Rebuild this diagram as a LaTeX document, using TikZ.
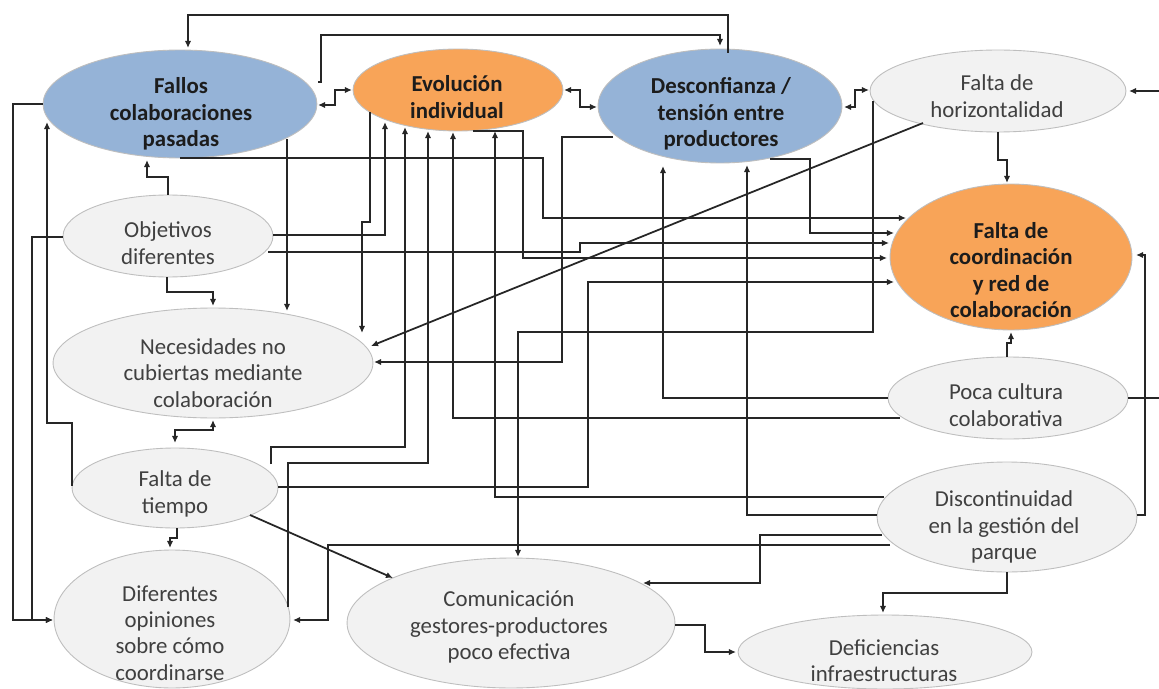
\documentclass[tikz,border=0pt]{standalone}
\usepackage{fontspec}
\setmainfont{Carlito}
\usetikzlibrary{arrows.meta,calc,shapes.geometric}

\definecolor{blueN}{RGB}{149,179,215}
\definecolor{orangeN}{RGB}{248,164,88}
\definecolor{grayN}{RGB}{242,242,242}
\definecolor{edgeN}{RGB}{190,190,190}
\definecolor{lineC}{RGB}{38,38,38}
\definecolor{txtB}{RGB}{28,28,28}
\definecolor{txtG}{RGB}{64,64,64}

\begin{document}
\begin{tikzpicture}[x=0.02cm,y=-0.02cm,
  oval/.style 2 args={ellipse,draw=edgeN,line width=0.5pt,inner sep=0pt,
    minimum width=#1*0.04cm,minimum height=#2*0.04cm},
  blueoval/.style={fill=blueN},
  orangeoval/.style={fill=orangeN},
  grayoval/.style={fill=grayN},
  boldtxt/.style={font=\fontsize{13}{15}\selectfont\bfseries,text=txtB,align=center,inner sep=0pt},
  plaintxt/.style={font=\fontsize{13}{15}\selectfont,text=txtG,align=center,inner sep=0pt},
  conn/.style={draw=lineC,line width=1pt,-{Latex[length=4pt,width=3.6pt]}},
  dconn/.style={draw=lineC,line width=1pt,{Latex[length=4pt,width=3.6pt]}-{Latex[length=4pt,width=3.6pt]}}]

\useasboundingbox (0,0) rectangle (1159,689);
\fill[white] (0,0) rectangle (1159,689);

% ellipses
\node[oval={137}{54},blueoval]   (fallos) at (180,104) {};
\node[oval={105}{41},orangeoval] (evol)   at (458,90)  {};
\node[oval={122}{57},blueoval]   (desc)   at (720,106) {};
\node[oval={128}{41},grayoval]   (horiz)  at (998,91)  {};
\node[oval={121}{73},orangeoval] (coord)  at (1011,257) {};
\node[oval={105}{41},grayoval]   (obj)    at (168,236) {};
\node[oval={160}{55},grayoval]   (nec)    at (213,363) {};
\node[oval={103}{40},grayoval]   (tiempo) at (175,488) {};
\node[oval={118}{69},grayoval]   (opin)   at (172,619) {};
\node[oval={164}{65},grayoval]   (comu)   at (511,623) {};
\node[oval={147}{37},grayoval]   (defic)  at (885,652) {};
\node[oval={130}{55},grayoval]   (disc)   at (1007,517) {};
\node[oval={120}{41},grayoval]   (poca)   at (1008,398) {};

% labels
\node[boldtxt]  (fallos-t) at (181,114) {Fallos\\colaboraciones\\pasadas};
\node[boldtxt]  (evol-t)   at (457,97)  {Evolución\\individual};
\node[boldtxt]  (desc-t)   at (721,114) {Desconfianza /\\tensión entre\\productores};
\node[plaintxt] (horiz-t)  at (997,96)  {Falta de\\horizontalidad};
\node[boldtxt]  (coord-t)  at (1011,270) {Falta de\\coordinación\\y red de\\colaboración};
\node[plaintxt] (obj-t)    at (168,243) {Objetivos\\diferentes};
\node[plaintxt] (nec-t)    at (213,373) {Necesidades no\\cubiertas mediante\\colaboración};
\node[plaintxt] (tiempo-t) at (175,494) {Falta de\\tiempo};
\node[plaintxt] (opin-t)   at (170,633) {Diferentes\\opiniones\\sobre cómo\\coordinarse};
\node[plaintxt] (comu-t)   at (509,627) {Comunicación\\gestores-productores\\poco efectiva};
\node[plaintxt] (defic-t)  at (884,661) {Deficiencias\\infraestructuras};
\node[plaintxt] (disc-t)   at (1004,527) {Discontinuidad\\en la gestión del\\parque};
\node[plaintxt] (poca-t)   at (1006,405) {Poca cultura\\colaborativa};

% links along the top
\draw[conn]  ($(desc.center)+(8,-53)$) -- ++(0,-38) -| ($(fallos.center)+(8,-56)$);
\draw[conn]  ($(fallos.center)+(138,-22)$) -- ++(3,0) -- ++(0,-47) -| ($(desc.center)+(0,-60)$);
\draw[dconn] ($(fallos.center)+(138,1)$) -- ++(17,0) |- ($(evol.center)+(-106,0)$);
\draw[dconn] ($(evol.center)+(106,0)$) -- ++(16,0) |- ($(desc.center)+(-123,1)$);
\draw[dconn] ($(desc.center)+(124,1)$) -- ++(11,0) |- ($(horiz.center)+(-129,-1)$);

% right-hand side
\draw[conn] ($(poca.center)+(120,0)$) -- ++(42,0) |- ($(horiz.center)+(131,0)$);
\draw[conn] ($(horiz.center)+(0,41)$) -- ++(0,28) -| ($(coord.center)+(-4,-74)$);
\draw[conn] ($(poca.center)+(-1,-41)$) -- ++(0,-14) -| ($(coord.center)+(0,75)$);
\draw[conn] ($(disc.center)+(130,-2)$) -- ++(8,0) |- ($(coord.center)+(125,-2)$);
\draw[conn] ($(disc.center)+(0,55)$) -- ++(0,21) -| ($(defic.center)+(-2,-39)$);
\draw[conn] ($(comu.center)+(164,2)$) -- ++(30,0) |- ($(defic.center)+(-149,0)$);

% left-hand side
\draw[conn]  ($(tiempo.center)+(75,27)$) -- ($(comu.center)+(-118,-45)$);
\draw[conn]  ($(tiempo.center)+(2,40)$) -- ++(0,10) -| ($(opin.center)+(-2,-71)$);
\draw[dconn] ($(nec.center)+(0,57)$) -- ++(0,10) -| ($(tiempo.center)+(0,-45)$);
\draw[conn]  ($(obj.center)+(-1,41)$) -- ++(0,15) -| ($(nec.center)+(0,-57)$);
\draw[conn]  ($(obj.center)+(0,-41)$) -- ++(0,-18) -| ($(fallos.center)+(-33,56)$);
\draw[conn]  ($(fallos.center)+(-137,0)$) -- ++(-30,0) |- ($(opin.center)+(-119,1)$);
\draw[conn]  ($(obj.center)+(-105,1)$) -- ++(-31,0) |- ($(opin.center)+(-119,1)$);
\draw[conn]  ($(tiempo.center)+(-103,-2)$) -- ++(0,-63) -| ($(fallos.center)+(-133,18)$);
\draw[conn]  ($(fallos.center)+(107,35)$) -- ($(nec.center)+(74,-52)$);

% into "Evolución individual"
\draw[conn] ($(evol.center)+(-88,22)$) -- ++(0,110) -| ($(nec.center)+(149,-30)$);
\draw[conn] ($(obj.center)+(105,-1)$) -| ($(evol.center)+(-73,32)$);
\draw[conn] ($(tiempo.center)+(96,-24)$) -- ++(0,-17) -| ($(evol.center)+(-53,37)$);
\draw[conn] ($(opin.center)+(116,-12)$) -- ++(0,-144) -| ($(evol.center)+(-30,41)$);
\draw[conn] ($(poca.center)+(-108,20)$) -| ($(evol.center)+(-5,42)$);
\draw[conn] ($(disc.center)+(-123,-20)$) -| ($(evol.center)+(37,41)$);

% into "Falta de coordinación"
\draw[conn] ($(evol.center)+(15,41)$) -- ++(50,0) |- ($(coord.center)+(-124,1)$);
\draw[conn] ($(fallos.center)+(0,54)$) -- ++(363,0) |- ($(coord.center)+(-105,-39)$);
\draw[conn] ($(desc.center)+(50,53)$) -- ++(40,0) |- ($(coord.center)+(-117,-24)$);
\draw[conn] ($(obj.center)+(100,16)$) -- ++(312,0) |- ($(coord.center)+(-122,-14)$);
\draw[conn] ($(tiempo.center)+(103,-1)$) -- ++(310,0) |- ($(coord.center)+(-117,25)$);

% middle network
\draw[conn] ($(horiz.center)+(-75,32)$) -- ($(nec.center)+(158,-17)$);
\draw[conn] ($(desc.center)+(-107,31)$) -- ++(-51,0) |- ($(nec.center)+(161,-1)$);
\draw[conn] ($(horiz.center)+(-125,10)$) -- ++(0,231) -| ($(comu.center)+(7,-66)$);
\draw[conn] ($(poca.center)+(-120,0)$) -| ($(desc.center)+(-57,60)$);
\draw[conn] ($(disc.center)+(-130,-2)$) -| ($(desc.center)+(27,59)$);
\draw[conn] ($(disc.center)+(-125,18)$) -- ++(-122,0) |- ($(comu.center)+(132,-40)$);
\draw[conn] ($(disc.center)+(-117,28)$) -- ++(-562,0) |- ($(opin.center)+(121,1)$);

\end{tikzpicture}
\end{document}
